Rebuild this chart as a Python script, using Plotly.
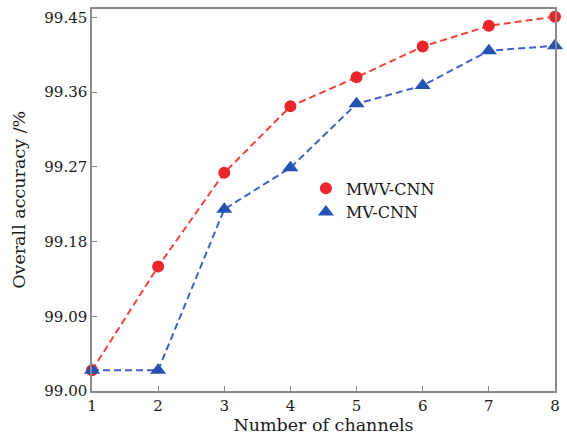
import plotly.graph_objects as go

channels = [1, 2, 3, 4, 5, 6, 7, 8]
mwv_cnn = [99.025, 99.150, 99.263, 99.343, 99.378, 99.415, 99.440, 99.451]
mv_cnn = [99.025, 99.025, 99.219, 99.269, 99.346, 99.368, 99.410, 99.416]
y_ticks = [99.00, 99.09, 99.18, 99.27, 99.36, 99.45]

FONT = "DejaVu Serif"
TEXT = "#1a1a1a"

series = [
    ("MWV-CNN", mwv_cnn, "#f0433f", "#e8262b", "circle", 12),
    ("MV-CNN", mv_cnn, "#3f62c4", "#2452b0", "triangle-up", 14),
]

fig = go.Figure()
for name, values, line_color, marker_color, symbol, size in series:
    fig.add_trace(go.Scatter(
        x=channels, y=values, name=name, mode="lines+markers",
        line=dict(color=line_color, width=2, dash="7px,4px"),
        marker=dict(symbol=symbol, size=size, color=marker_color),
        cliponaxis=False, showlegend=False,
    ))
    # legend entry shows the marker only
    fig.add_trace(go.Scatter(
        x=[None], y=[None], name=name, mode="markers",
        marker=dict(symbol=symbol, size=size, color=marker_color),
        showlegend=True,
    ))

axis_common = dict(
    showline=True, linecolor="#8a8a8a", linewidth=1.5, mirror=True,
    ticks="inside", ticklen=5, tickcolor="#8a8a8a",
    showgrid=False, zeroline=False,
    tickfont=dict(family=FONT, size=15, color=TEXT),
)

fig.update_layout(
    width=567, height=444,
    margin=dict(l=92, r=7, t=9, b=53),
    paper_bgcolor="white", plot_bgcolor="white",
    font=dict(family=FONT, color=TEXT),
    xaxis=dict(
        range=[1, 8], tickvals=channels,
        title=dict(text="Number of channels", font=dict(family=FONT, size=17.5, color=TEXT), standoff=1),
        **axis_common,
    ),
    yaxis=dict(
        range=[99.0, 99.4603], tickvals=y_ticks,
        ticktext=[f"{v:.2f}" for v in y_ticks],
        **axis_common,
    ),
    annotations=[dict(
        text="Overall accuracy /%", textangle=-90,
        xref="paper", yref="paper", x=-0.158, y=0.5,
        xanchor="center", yanchor="middle", showarrow=False,
        font=dict(family=FONT, size=17.5, color=TEXT),
    )],
    legend=dict(
        x=0.462, y=0.575, xanchor="left", yanchor="top",
        bgcolor="rgba(0,0,0,0)", font=dict(family=FONT, size=16, color=TEXT),
        tracegroupgap=0,
    ),
    showlegend=True,
)

fig.write_html("out.html")
